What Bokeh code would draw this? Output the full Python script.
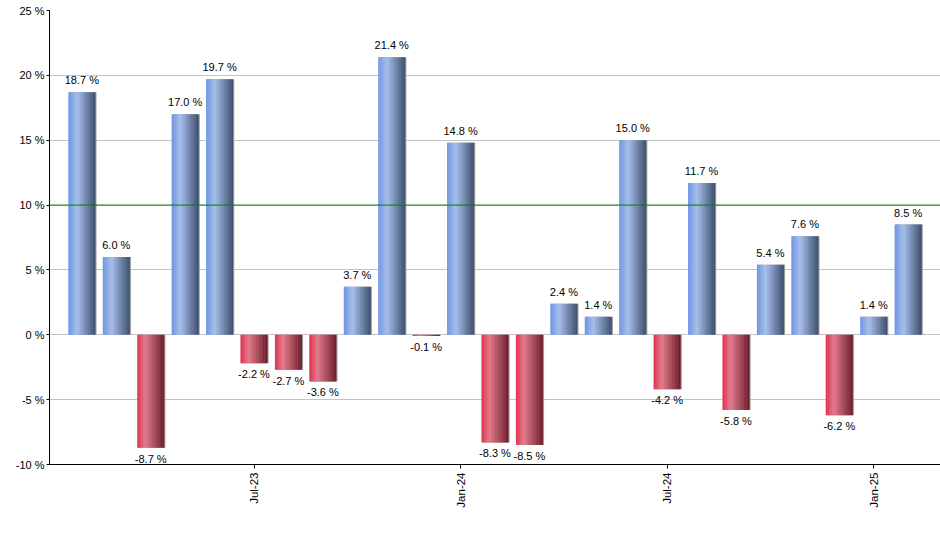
import numpy as np
from bokeh.plotting import figure
from bokeh.models import ColumnDataSource, Range1d, FixedTicker, PrintfTickFormatter, Span
from bokeh.transform import dodge
from bokeh.core.properties import value
from bokeh.embed import file_html
from bokeh.resources import INLINE

months = ["Feb-23", "Mar-23", "Apr-23", "May-23", "Jun-23", "Jul-23", "Aug-23", "Sep-23",
          "Oct-23", "Nov-23", "Dec-23", "Jan-24", "Feb-24", "Mar-24", "Apr-24", "May-24",
          "Jun-24", "Jul-24", "Aug-24", "Sep-24", "Oct-24", "Nov-24", "Dec-24", "Jan-25", "Feb-25"]
returns = [18.7, 6.0, -8.7, 17.0, 19.7, -2.2, -2.7, -3.6, 3.7, 21.4, -0.1, 14.8, -8.3, -8.5,
           2.4, 1.4, 15.0, -4.2, 11.7, -5.8, 5.4, 7.6, -6.2, 1.4, 8.5]
tick_labels = {5: "Jul-23", 11: "Jan-24", 17: "Jul-24", 23: "Jan-25"}
y_ticks = [-10, -5, 0, 5, 10, 15, 20, 25]
target = 10

FONT = "Liberation Sans"
BAR_W = 0.78
N_SLICES = 18

def hex2rgb(h):
    h = h.lstrip("#")
    return np.array([int(h[i:i + 2], 16) for i in (0, 2, 4)], dtype=float)

def grad(stops, t):
    for (t0, c0), (t1, c1) in zip(stops[:-1], stops[1:]):
        if t0 <= t <= t1:
            f = (t - t0) / (t1 - t0) if t1 > t0 else 0
            c = hex2rgb(c0) * (1 - f) + hex2rgb(c1) * f
            return "#%02x%02x%02x" % tuple(int(round(v)) for v in c)
    return stops[-1][1]

blue_stops = [(0.0, "#6c94e6"), (0.33, "#a8c1ef"), (1.0, "#3a4e70")]
red_stops = [(0.0, "#df2d4d"), (0.3, "#e67a8b"), (1.0, "#6e1a2a")]

x = list(range(len(returns)))
data = dict(x=x, top=returns, bottom=[0] * len(returns))
for k in range(N_SLICES):
    t = (k + 0.5) / N_SLICES
    cb, cr = grad(blue_stops, t), grad(red_stops, t)
    data["c%d" % k] = [cb if v >= 0 else cr for v in returns]
src = ColumnDataSource(data)

pos_src = ColumnDataSource(dict(
    x=[i for i, v in zip(x, returns) if v >= 0],
    y=[v for v in returns if v >= 0],
    label=["%.1f %%" % v for v in returns if v >= 0]))
neg_src = ColumnDataSource(dict(
    x=[i for i, v in zip(x, returns) if v < 0],
    y=[v for v in returns if v < 0],
    label=["%.1f %%" % v for v in returns if v < 0]))

p = figure(width=940, height=550, output_backend="svg", toolbar_location=None,
           x_range=Range1d(-0.94, 24.94), y_range=Range1d(-10, 25),
           min_border_left=49, min_border_right=0, min_border_top=10, min_border_bottom=86)
p.outline_line_color = None
p.background_fill_color = "white"

p.xgrid.grid_line_color = None
p.ygrid.grid_line_color = "#c4c4c4"
p.ygrid.ticker = FixedTicker(ticks=y_ticks)

p.yaxis.ticker = FixedTicker(ticks=y_ticks)
p.yaxis.formatter = PrintfTickFormatter(format="%d %%")
p.yaxis.axis_line_color = "black"
p.yaxis.major_tick_out = 3
p.yaxis.major_tick_in = 0
p.yaxis.minor_tick_line_color = None
p.yaxis.major_label_standoff = 2
p.yaxis.major_label_text_font = FONT
p.yaxis.major_label_text_font_size = "11px"
p.yaxis.major_label_text_color = "black"

p.xaxis.ticker = FixedTicker(ticks=list(tick_labels.keys()))
p.xaxis.major_label_overrides = tick_labels
p.xaxis.major_label_orientation = np.pi / 2
p.xaxis.axis_line_color = "black"
p.xaxis.major_tick_out = 4
p.xaxis.major_tick_in = 0
p.xaxis.minor_tick_line_color = None
p.xaxis.major_label_standoff = 4
p.xaxis.major_label_text_font = FONT
p.xaxis.major_label_text_font_size = "11.5px"
p.xaxis.major_label_text_color = "black"

# shadow
p.vbar(x=dodge("x", 0.035, range=p.x_range), top="top", bottom="bottom", width=BAR_W,
       source=src, fill_color="#9a9a9a", line_color=None)

# gradient slices
sw = BAR_W / N_SLICES
for k in range(N_SLICES):
    off = -BAR_W / 2 + (k + 0.5) * sw
    p.vbar(x=dodge("x", off, range=p.x_range), top="top", bottom="bottom", width=sw * 1.15,
           source=src, fill_color="c%d" % k, line_color=None)

p.add_layout(Span(location=target, dimension="width", line_color="#008000", line_width=1))

p.text(x="x", y="y", text="label", source=pos_src, text_align="center", text_baseline="bottom",
       y_offset=-6, text_font=value(FONT), text_font_size="11px", text_color="black")
p.text(x="x", y="y", text="label", source=neg_src, text_align="center", text_baseline="top",
       y_offset=5, text_font=value(FONT), text_font_size="11px", text_color="black")

open("out.html", "w").write(file_html(p, INLINE))
